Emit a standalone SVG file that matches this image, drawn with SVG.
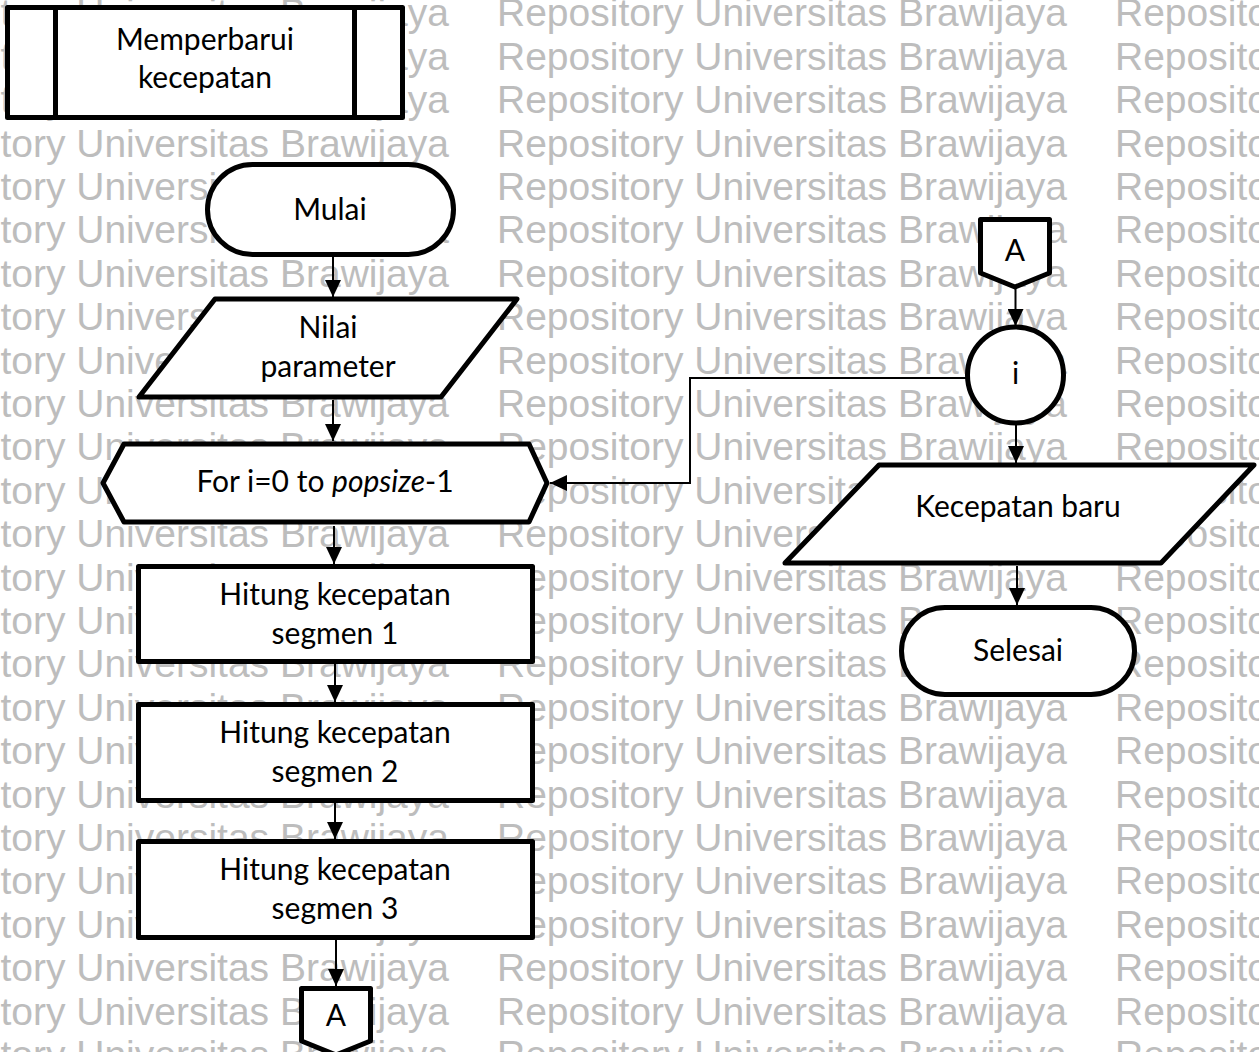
<svg xmlns="http://www.w3.org/2000/svg" xmlns:xlink="http://www.w3.org/1999/xlink" width="1259" height="1052" viewBox="0 0 1259 1052">
  <style>
    .shape { fill: #ffffff; stroke: #000000; stroke-width: 5; stroke-linejoin: round; }
    .label { font-family: Lato, "Open Sans", sans-serif; font-size: 30px; fill: #000000; text-anchor: middle; }
    .flow { fill: none; stroke: #000000; stroke-width: 2; }
  </style>
  <defs>
    <marker id="arrow" viewBox="0 0 17 16" refX="17" refY="8" markerWidth="17" markerHeight="16" markerUnits="userSpaceOnUse" orient="auto">
      <path d="M0,0 L17,8 L0,16 z" fill="#000000"/>
    </marker>
    <text id="wmrow" font-family="'Liberation Sans', Arial, sans-serif" font-size="39" fill="#bdbdbd">
      <tspan x="-121" textLength="570" lengthAdjust="spacing">Repository Universitas Brawijaya</tspan>
      <tspan x="497" textLength="570" lengthAdjust="spacing">Repository Universitas Brawijaya</tspan>
      <tspan x="1115" textLength="570" lengthAdjust="spacing">Repository Universitas Brawijaya</tspan>
    </text>
  </defs>

  <rect width="1259" height="1052" fill="#ffffff"/>

  <!-- background watermark rows -->
  <g id="watermark">
    <use xlink:href="#wmrow" y="26.4"/>
    <use xlink:href="#wmrow" y="69.8"/>
    <use xlink:href="#wmrow" y="113.2"/>
    <use xlink:href="#wmrow" y="156.6"/>
    <use xlink:href="#wmrow" y="200"/>
    <use xlink:href="#wmrow" y="243.4"/>
    <use xlink:href="#wmrow" y="286.8"/>
    <use xlink:href="#wmrow" y="330.2"/>
    <use xlink:href="#wmrow" y="373.6"/>
    <use xlink:href="#wmrow" y="417"/>
    <use xlink:href="#wmrow" y="460.4"/>
    <use xlink:href="#wmrow" y="503.8"/>
    <use xlink:href="#wmrow" y="547.2"/>
    <use xlink:href="#wmrow" y="590.6"/>
    <use xlink:href="#wmrow" y="634"/>
    <use xlink:href="#wmrow" y="677.4"/>
    <use xlink:href="#wmrow" y="720.8"/>
    <use xlink:href="#wmrow" y="764.2"/>
    <use xlink:href="#wmrow" y="807.6"/>
    <use xlink:href="#wmrow" y="851"/>
    <use xlink:href="#wmrow" y="894.4"/>
    <use xlink:href="#wmrow" y="937.8"/>
    <use xlink:href="#wmrow" y="981.2"/>
    <use xlink:href="#wmrow" y="1024.6"/>
    <use xlink:href="#wmrow" y="1068"/>
  </g>

  <!-- connectors -->
  <g id="connectors">
    <line class="flow" x1="333" y1="257" x2="333" y2="297" marker-end="url(#arrow)"/>
    <line class="flow" x1="333" y1="400" x2="333" y2="441" marker-end="url(#arrow)"/>
    <line class="flow" x1="334" y1="526" x2="334" y2="564" marker-end="url(#arrow)"/>
    <line class="flow" x1="335" y1="664" x2="335" y2="702" marker-end="url(#arrow)"/>
    <line class="flow" x1="335" y1="803" x2="335" y2="839" marker-end="url(#arrow)"/>
    <line class="flow" x1="336" y1="940" x2="336" y2="986" marker-end="url(#arrow)"/>
    <line class="flow" x1="1015.5" y1="288" x2="1015.5" y2="326" marker-end="url(#arrow)"/>
    <line class="flow" x1="1016" y1="425" x2="1016" y2="463" marker-end="url(#arrow)"/>
    <line class="flow" x1="1017" y1="566" x2="1017" y2="605" marker-end="url(#arrow)"/>
    <polyline class="flow" points="966,378 690,378 690,483 550,483" marker-end="url(#arrow)"/>
  </g>

  <!-- header: predefined process -->
  <g id="node-memperbarui">
    <rect class="shape" x="7.5" y="7.5" width="395" height="110"/>
    <line class="shape" x1="55.5" y1="7.5" x2="55.5" y2="117.5"/>
    <line class="shape" x1="354.5" y1="7.5" x2="354.5" y2="117.5"/>
    <text class="label" x="205" y="50">Memperbarui</text>
    <text class="label" x="205" y="88">kecepatan</text>
  </g>

  <g id="node-mulai">
    <rect class="shape" x="207.5" y="164.5" width="246" height="90" rx="45" ry="45"/>
    <text class="label" x="330" y="220">Mulai</text>
  </g>

  <g id="node-nilai">
    <polygon class="shape" points="215,299 517,299 441,397 139,397"/>
    <text class="label" x="328" y="338">Nilai</text>
    <text class="label" x="328" y="377">parameter</text>
  </g>

  <g id="node-for">
    <polygon class="shape" points="103,483 124,444 529,444 547,483 529,522 124,522"/>
    <text class="label" x="325" y="492">For i=0 to <tspan font-style="italic">popsize</tspan>-1</text>
  </g>

  <g id="node-segmen1">
    <rect class="shape" x="138.5" y="566.5" width="394" height="95"/>
    <text class="label" x="335" y="605">Hitung kecepatan</text>
    <text class="label" x="335" y="644">segmen 1</text>
  </g>

  <g id="node-segmen2">
    <rect class="shape" x="138.5" y="704.5" width="394" height="96"/>
    <text class="label" x="335" y="743">Hitung kecepatan</text>
    <text class="label" x="335" y="782">segmen 2</text>
  </g>

  <g id="node-segmen3">
    <rect class="shape" x="138.5" y="841.5" width="394" height="96"/>
    <text class="label" x="335" y="880">Hitung kecepatan</text>
    <text class="label" x="335" y="919">segmen 3</text>
  </g>

  <g id="node-a-out">
    <polygon class="shape" points="301.5,988.5 370.5,988.5 370.5,1041 336,1055 301.5,1041"/>
    <text class="label" x="336" y="1026">A</text>
  </g>

  <g id="node-a-in">
    <polygon class="shape" points="980.5,219.5 1049.5,219.5 1049.5,273 1015,287 980.5,273"/>
    <text class="label" x="1015" y="261">A</text>
  </g>

  <g id="node-i">
    <circle class="shape" cx="1015.5" cy="375" r="48"/>
    <text class="label" x="1015.5" y="384">i</text>
  </g>

  <g id="node-kecepatan-baru">
    <polygon class="shape" points="879,465 1254,465 1161,563 785,563"/>
    <text class="label" x="1018" y="517">Kecepatan baru</text>
  </g>

  <g id="node-selesai">
    <rect class="shape" x="901.5" y="607.5" width="233" height="87" rx="43.5" ry="43.5"/>
    <text class="label" x="1018" y="661">Selesai</text>
  </g>
</svg>
